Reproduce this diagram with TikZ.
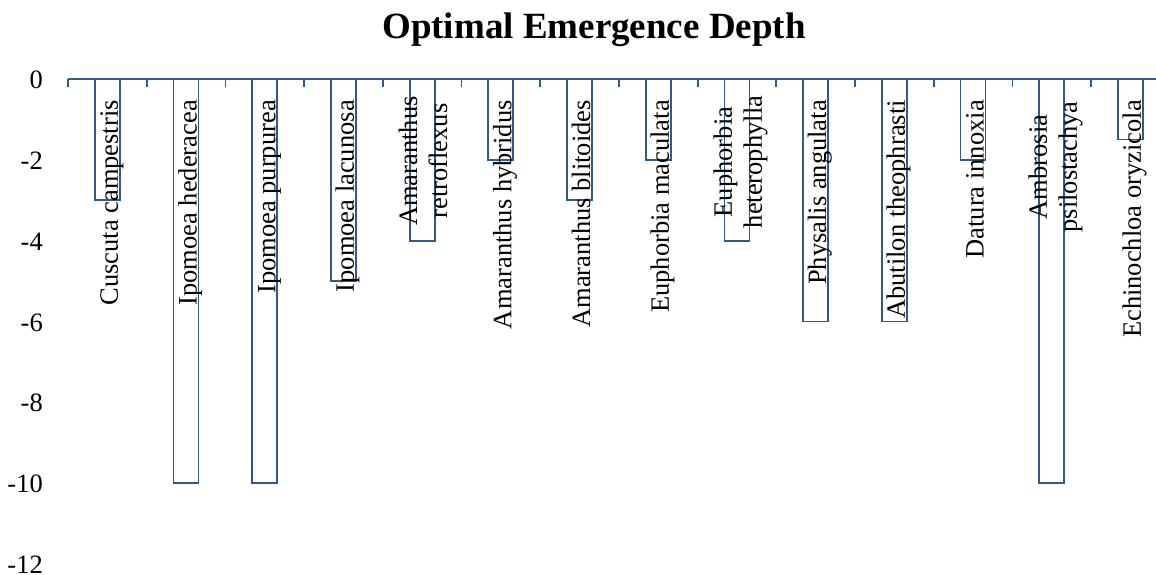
\documentclass[tikz,border=0pt]{standalone}
\usepackage{fontspec}
\setmainfont{Liberation Serif}
\definecolor{barblue}{HTML}{2F5A8A}
\begin{document}
\begin{tikzpicture}[x=1pt,y=-1pt,
  bar/.style={draw=barblue,line width=1.8pt,fill=white},
  axisline/.style={draw=barblue,line width=1.8pt},
  catlab/.style={rotate=90,inner sep=0pt,font=\fontsize{26.5}{30}\selectfont},
  ticklab/.style={anchor=east,inner sep=0pt,font=\fontsize{26.5}{30}\selectfont},
  titlelab/.style={anchor=base,inner sep=0pt,font=\fontsize{37}{40}\selectfont\bfseries}]
\useasboundingbox (0,0) rectangle (1156,575);
% title
\node[titlelab] (title) at (594,38.5) {Optimal Emergence Depth};
% bars
\foreach \i/\v in {1/3,2/10,3/10,4/5,5/4,6/2,7/3,8/2,9/4,10/6,11/6,12/2,13/10,14/1.5}{
  \pgfmathsetmacro\cx{68+(\i-0.5)*78.7}
  \pgfmathsetmacro\by{79+40.4*\v}
  \draw[bar] (\cx-12.5,79) rectangle (\cx+12.5,\by);
}
% axis
\draw[axisline] (68,79) -- (1156,79);
\foreach \k in {0,...,13}{
  \draw[axisline] (68+\k*78.7,79) -- ++(0,8);
}
% tick labels
\foreach \v/\t in {0/0,2/-2,4/-4,6/-6,8/-8,10/-10,12/-12}{
  \node[ticklab] (t\v) at (43,80+40.4*\v) {\t};
}
% single-line category labels
\foreach \i/\t in {1/Cuscuta campestris,2/Ipomoea hederacea,3/Ipomoea purpurea,4/Ipomoea lacunosa,6/Amaranthus hybridus,7/Amaranthus blitoides,8/Euphorbia maculata,10/Physalis angulata,11/Abutilon theophrasti,12/Datura innoxia,14/Echinochloa oryzicola}{
  \pgfmathsetmacro\cx{68+(\i-0.5)*78.7}
  \node[catlab,anchor=base east] (l\i) at (\cx+10.5,100) {\t};
}
% two-line category labels
\foreach \i/\ta/\tb/\cy in {5/Amaranthus/retroflexus/161,9/Euphorbia/heterophylla/162,13/Ambrosia/psilostachya/167}{
  \pgfmathsetmacro\cx{68+(\i-0.5)*78.7}
  \node[catlab,anchor=base] (l\i a) at (\cx-5,\cy) {\ta};
  \node[catlab,anchor=base] (l\i b) at (\cx+25,\cy) {\tb};
}
\end{tikzpicture}
\end{document}
